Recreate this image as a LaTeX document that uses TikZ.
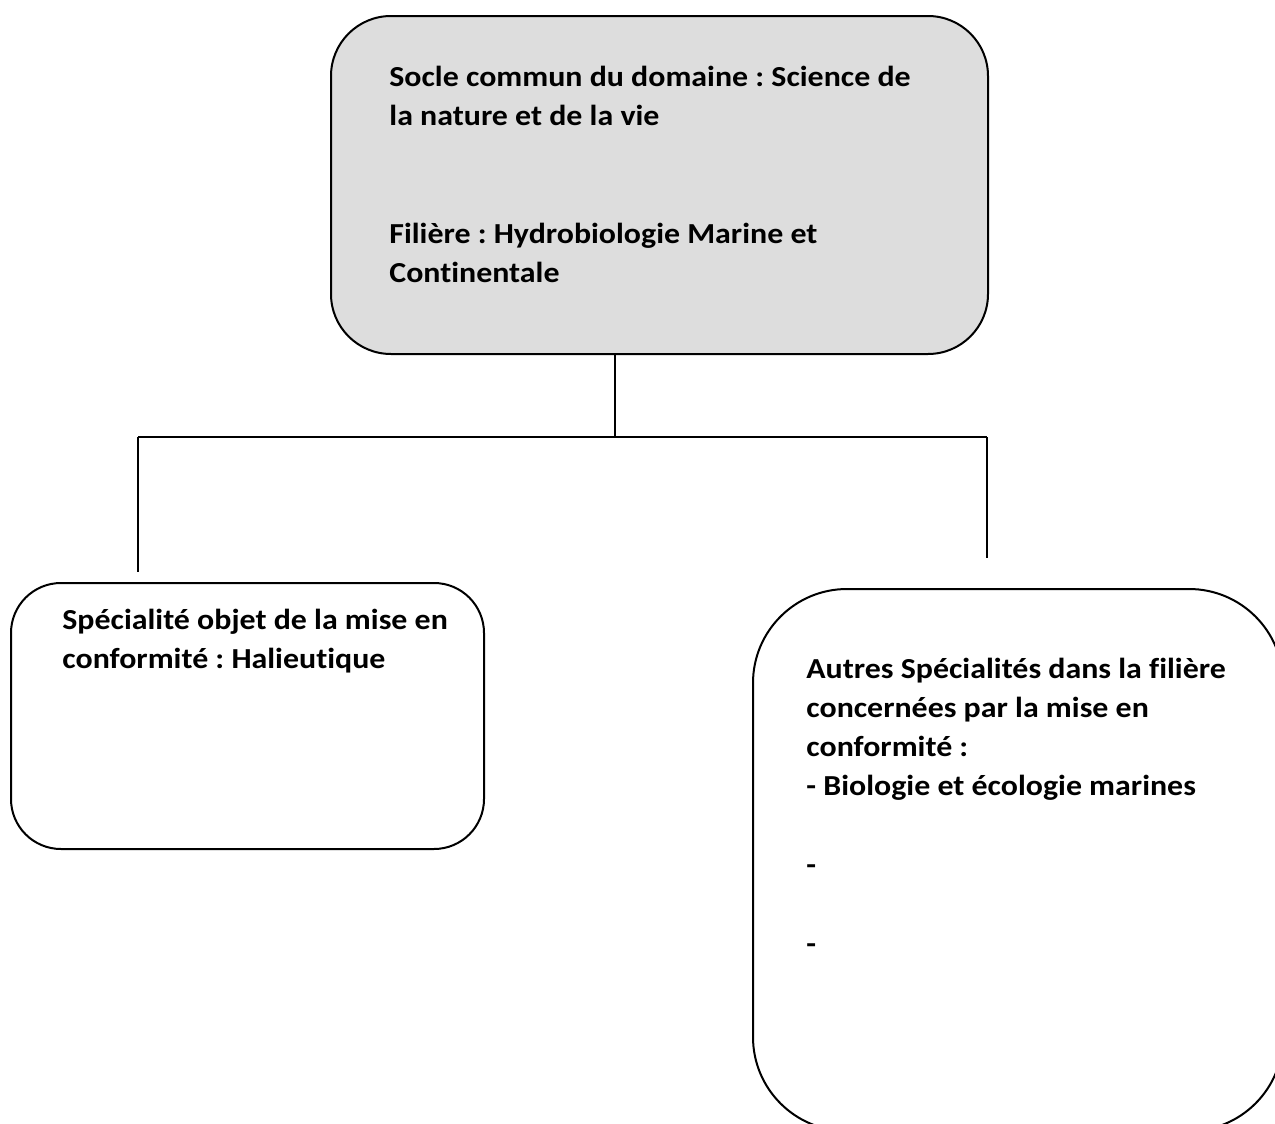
\documentclass[tikz,border=0pt]{standalone}
\usepackage{fontspec}
\setmainfont{Carlito}[Ligatures=NoCommon, FakeStretch=1.1]
\usepackage{xcolor}
\usepackage{tikz}
\usetikzlibrary{positioning}
\definecolor{soclegray}{RGB}{221,221,221}

\begin{document}
\begin{tikzpicture}[
    x=0.5pt, y=-0.5pt,
    box/.style={
      draw=black, line width=1pt, anchor=north west,
      inner sep=0pt
    },
    txt/.style={
      anchor=north west, inner sep=0pt, align=left,
      font=\fontsize{14.5pt}{19.5pt}\selectfont\bfseries\frenchspacing
    },
    link/.style={draw=black, line width=0.8pt}
  ]
    \useasboundingbox (0,0) rectangle (1275,1124);
    \clip (0,0) rectangle (1275,1124);

    \node[box, fill=soclegray, rounded corners=30pt,
          minimum width=328.5pt, minimum height=169pt] (socle) at (330,15) {};
    \node[box, rounded corners=25pt,
          minimum width=236.5pt, minimum height=133pt] (halieu) at (10,582) {};
    \node[box, rounded corners=47pt,
          minimum width=265pt, minimum height=271pt] (autres) at (752,588) {};

    \node[txt] (socletxt) at (389,66) {Socle commun du domaine : Science de\\la nature et de la vie\\[39.5pt]Filière : Hydrobiologie Marine et\\Continentale};
    \node[txt] (halieutxt) at (62,609) {Spécialité objet de la mise en\\conformité : Halieutique};
    \node[txt] (autrestxt) at (806,658) {Autres Spécialités dans la filière\\concernées par la mise en\\conformité :\\- Biologie et écologie marines\\[20pt]-\\[20pt]-};

    \coordinate (stemtop) at (615,353);
    \coordinate (fork) at (615,437);
    \coordinate (forkleft) at (138,437);
    \coordinate (forkright) at (987,437);
    \coordinate (leftend) at (138,572);
    \coordinate (rightend) at (987,558);

    \draw[link] (stemtop) -- (fork);
    \draw[link] (forkleft) -- (forkright);
    \draw[link] (forkleft) -- (leftend);
    \draw[link] (forkright) -- (rightend);
  \end{tikzpicture}
\end{document}
